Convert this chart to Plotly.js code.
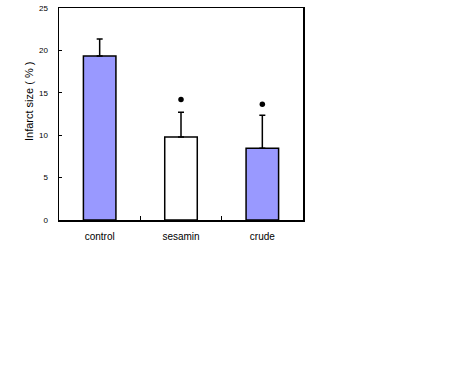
<!DOCTYPE html>
<html><head><meta charset="utf-8">
<script src="https://cdn.plot.ly/plotly-3.0.1.min.js"></script>
<style>html,body{margin:0;padding:0;background:#fff}#c{width:451px;height:390px}</style>
</head><body><div id="c"></div>
<script>
var categories = ['control', 'sesamin', 'crude'];
var infarct = [19.35, 9.8, 8.45];
var errUp = [2.0, 2.9, 3.9];
var sigCats = ['sesamin', 'crude'];
var sigY = [14.2, 13.65];
var yTicks = [0, 5, 10, 15, 20, 25];

var bars = {
  type: 'bar', x: categories, y: infarct, width: 0.4,
  marker: {color: ['#9999ff', '#ffffff', '#9999ff'], line: {color: '#000', width: 1.5}},
  error_y: {type: 'data', symmetric: false, array: errUp, arrayminus: [0,0,0], color: '#000', thickness: 1.5, width: 3},
  hoverinfo: 'none'
};
var stars = {
  type: 'scatter', mode: 'markers', x: sigCats, y: sigY,
  marker: {color: '#000', size: 5.5, symbol: 'circle'}, hoverinfo: 'none'
};
var layout = {
  width: 451, height: 390, showlegend: false,
  paper_bgcolor: '#fff', plot_bgcolor: '#fff',
  margin: {l: 59, r: 148, t: 8, b: 169.5, pad: 0},
  font: {family: 'Liberation Sans, Arial, sans-serif', color: '#000'},
  xaxis: {
    type: 'category', range: [-0.5, 2.5], tickson: 'boundaries',
    ticks: 'inside', ticklen: 4, tickwidth: 1, tickcolor: '#000',
    showline: true, linecolor: '#000', linewidth: 1.5, mirror: true,
    showgrid: false, zeroline: false, tickfont: {size: 10}, ticklabelstandoff: 6
  },
  yaxis: {
    range: [0, 25], tickvals: yTicks, ticktext: yTicks.map(String),
    ticks: 'inside', ticklen: 3, tickwidth: 1, tickcolor: '#000',
    showline: true, linecolor: '#000', linewidth: 1.5, mirror: true,
    showgrid: false, zeroline: false, tickfont: {size: 8}, ticklabelstandoff: 8
  },
  annotations: [{
    text: 'Infarct size ( % )', textangle: -90, showarrow: false,
    xref: 'paper', yref: 'paper', x: -0.12, y: 0.56, xanchor: 'center', yanchor: 'middle',
    font: {size: 11}
  }]
};
Plotly.newPlot('c', [bars, stars], layout, {displayModeBar: false, staticPlot: true});
</script></body></html>
